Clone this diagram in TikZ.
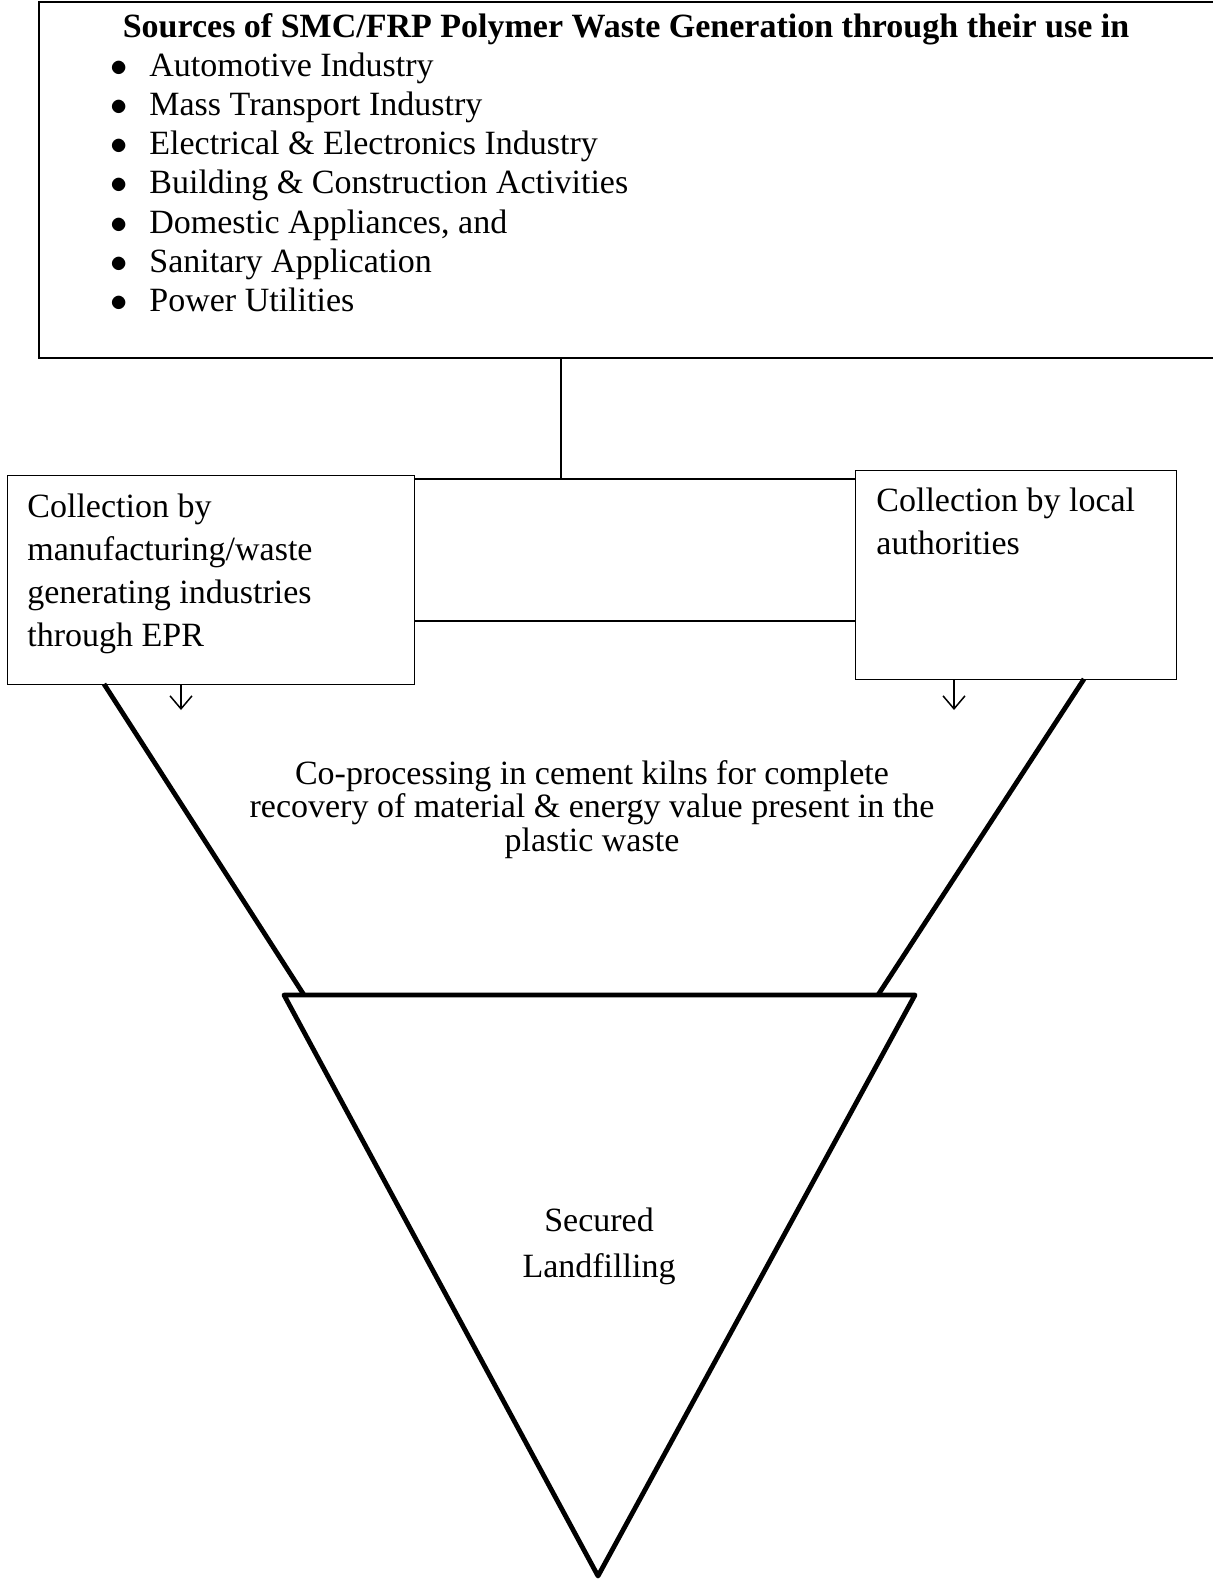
\documentclass[tikz,border=0pt]{standalone}
\usepackage{fontspec}
\setmainfont{Liberation Serif}
\usetikzlibrary{positioning, arrows.meta, calc}

\tikzset{
  box/.style={draw, line width=0.65pt, inner sep=0pt},
  boxtext/.style={anchor=base west, align=left, inner sep=0pt,
    font=\fontsize{17}{21.5}\selectfont},
  item/.style={anchor=base west, inner sep=0pt},
  conn/.style={line width=0.8pt},
  collect/.style={-{Straight Barb[length=6.5pt, width=11pt]}, line width=0.75pt},
  funnel/.style={line width=2.4pt, line join=round}
}

\begin{document}
\begin{tikzpicture}[x=0.5pt, y=-0.5pt, font=\fontsize{17}{21.5}\selectfont]
  \useasboundingbox (0,0) rectangle (1212,1579);

  % sources box (runs off the right edge)
  \node[box, line width=0.9pt, anchor=north west, minimum width=588pt, minimum height=178pt] (sources) at (38,1) {};
  \node[anchor=base, inner sep=0pt, font=\fontsize{17}{21.5}\selectfont\bfseries] (title) at (626,38)
    {Sources of SMC/FRP Polymer Waste Generation through their use in};
  \foreach \t [count=\i] in {Automotive Industry, Mass Transport Industry,
      Electrical \& Electronics Industry, Building \& Construction Activities,
      {Domestic Appliances, and}, Sanitary Application, Power Utilities} {
    \node[item] (src\i) at (149, 37+39.2*\i) {\t};
    \node[anchor=base, inner sep=0pt] (dot\i) at (119, 37+39.2*\i) {$\bullet$};
  }

  % collection boxes (text anchored at its last baseline)
  \node[box, anchor=north west, minimum width=203.5pt, minimum height=104.5pt] (epr) at (7,475) {};
  \node[boxtext] (eprtext) at (27,646)
    {Collection by\\manufacturing/waste\\generating industries\\through EPR};
  \node[box, anchor=north west, minimum width=160.5pt, minimum height=104.5pt] (local) at (855,470) {};
  \node[boxtext] (localtext) at (876,554) {Collection by local\\authorities};

  % connectors
  \coordinate (tee) at (561,479);
  \coordinate (mid) at (600,621);
  \draw[conn] (tee |- sources.south) -- (tee);
  \draw[conn] (epr.east |- tee) -- (local.west |- tee);
  \draw[line width=1.4pt] (epr.east |- mid) -- (local.west |- mid);

  \coordinate (eprout) at (181,710);
  \coordinate (localout) at (954,710);
  \draw[collect] (eprout |- epr.south) -- (eprout);
  \draw[collect] (localout |- local.south) -- (localout);

  % funnel
  \draw[funnel] (104,684) -- (304,995);
  \draw[funnel] (1084,679) -- (878,995);
  \node[align=center, inner sep=0pt, anchor=base, font=\fontsize{17}{16.75}\selectfont] (coproc) at (592,851)
    {Co-processing in cement kilns for complete\\recovery of material \& energy value present in the\\plastic waste};

  % landfill triangle
  \draw[funnel] (284,995) -- (915,995) -- (598,1576) -- cycle;
  \node[align=center, inner sep=0pt, anchor=base, font=\fontsize{17}{23}\selectfont] (landfill) at (599,1277)
    {Secured\\Landfilling};
\end{tikzpicture}
\end{document}
